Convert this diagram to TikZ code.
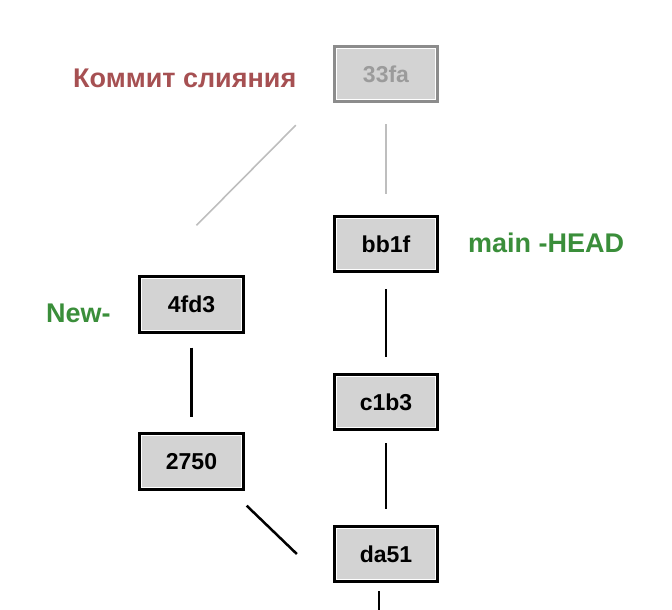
\documentclass[tikz,border=0pt]{standalone}
\usepackage{fontspec}
\setmainfont{Liberation Sans}
\usetikzlibrary{calc}

\definecolor{boxgray}{RGB}{211,211,211}
\definecolor{mergered}{RGB}{166,80,82}
\definecolor{branchgreen}{RGB}{58,142,58}
\definecolor{fadeborder}{RGB}{140,140,140}
\definecolor{fadetext}{RGB}{155,155,155}
\definecolor{fadeline}{RGB}{190,190,190}

\begin{document}
\begin{tikzpicture}[x=1pt, y=-1pt,
    commit/.style={draw=black, line width=2.8pt, fill=boxgray, inner sep=0pt,
        minimum width=103.5pt, minimum height=55.5pt,
        font=\fontsize{23}{27}\selectfont\bfseries,
        path picture={\draw[white, line width=4.8pt]
            (path picture bounding box.south west) rectangle
            (path picture bounding box.north east);}},
    merged/.style={commit, draw=fadeborder, text=fadetext},
    link/.style={draw=black, line width=2.5pt},
    faint/.style={draw=fadeline, line width=1.6pt},
    tag/.style={anchor=base west, inner sep=0pt, font=\fontsize{27}{32}\selectfont\bfseries}]

    \useasboundingbox (0,0) rectangle (672,610);

    % Commits
    \node[merged] (m33fa) at (386,74) {33fa};
    \node[commit] (bb1f) at (386,244) {bb1f};
    \node[commit] (c1b3) at (386,402) {c1b3};
    \node[commit] (da51) at (386,554) {da51};
    \node[commit] (n4fd3) at (191.5,304.5) {4fd3};
    \node[commit] (n2750) at (191.5,461.5) {2750};

    % Free ends
    \coordinate (mergeleft) at ($(m33fa.south west)+(-37,22)$);
    \coordinate (newtop) at ($(n4fd3.north)+(5,-50)$);
    \coordinate (sidestart) at ($(n2750.south east)+(2,15)$);
    \coordinate (sideend) at ($(da51.west)+(-36,0)$);
    \coordinate (down) at ($(da51.south)+(-7,8)$);
    \coordinate (downend) at (379,610);

    % Links
    \draw[faint, shorten <=21pt, shorten >=21pt] (m33fa) -- (bb1f);
    \draw[faint] (mergeleft) -- (newtop);
    \draw[link, shorten <=16pt, shorten >=16pt] (bb1f) -- (c1b3);
    \draw[link, shorten <=12pt, shorten >=16pt] (c1b3) -- (da51);
    \draw[link, shorten <=14pt, shorten >=15pt] (n4fd3) -- (n2750);
    \draw[link] (sidestart) -- (sideend);
    \draw[link] (down) -- (downend);

    % Labels
    \node[tag, text=mergered] (mergelabel) at (73,88) {Коммит слияния};
    \node[tag, text=branchgreen] (mainlabel) at (468,252) {main -HEAD};
    \node[tag, text=branchgreen] (newlabel) at (46,322) {New-};

\end{tikzpicture}
\end{document}
